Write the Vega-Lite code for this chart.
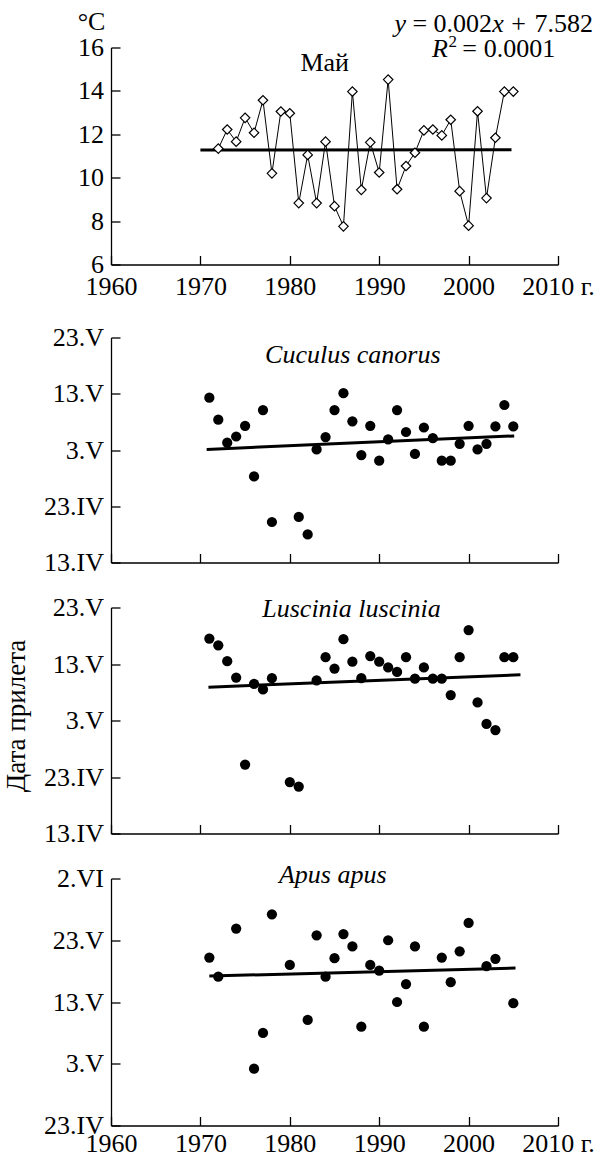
{
  "$schema": "https://vega.github.io/schema/vega-lite/v6.json",
  "padding": {"left": 1, "top": 8.5, "right": 5, "bottom": 5},
  "background": "white",
  "datasets": {
    "may": [
      {"year": 1972, "v": 11.34}, {"year": 1973, "v": 12.22}, {"year": 1974, "v": 11.66}, {"year": 1975, "v": 12.76},
      {"year": 1976, "v": 12.07}, {"year": 1977, "v": 13.57}, {"year": 1978, "v": 10.2}, {"year": 1979, "v": 13.05},
      {"year": 1980, "v": 12.97}, {"year": 1981, "v": 8.83}, {"year": 1982, "v": 11.05}, {"year": 1983, "v": 8.83},
      {"year": 1984, "v": 11.66}, {"year": 1985, "v": 8.69}, {"year": 1986, "v": 7.76}, {"year": 1987, "v": 13.97},
      {"year": 1988, "v": 9.44}, {"year": 1989, "v": 11.63}, {"year": 1990, "v": 10.24}, {"year": 1991, "v": 14.52},
      {"year": 1992, "v": 9.47}, {"year": 1993, "v": 10.54}, {"year": 1994, "v": 11.15}, {"year": 1995, "v": 12.18},
      {"year": 1996, "v": 12.22}, {"year": 1997, "v": 11.95}, {"year": 1998, "v": 12.67}, {"year": 1999, "v": 9.38},
      {"year": 2000, "v": 7.79}, {"year": 2001, "v": 13.06}, {"year": 2002, "v": 9.06}, {"year": 2003, "v": 11.84},
      {"year": 2004, "v": 13.97}, {"year": 2005, "v": 13.97}
    ],
    "may_trend": [{"year": 1970, "v": 11.28}, {"year": 2004.8, "v": 11.29}],
    "cuculus": [
      {"year": 1971, "v": 132.3}, {"year": 1972, "v": 128.4}, {"year": 1973, "v": 124.3}, {"year": 1974, "v": 125.4},
      {"year": 1975, "v": 127.3}, {"year": 1976, "v": 118.3}, {"year": 1977, "v": 130.1}, {"year": 1978, "v": 110.2},
      {"year": 1981, "v": 111.1}, {"year": 1982, "v": 108.0}, {"year": 1983, "v": 123.1}, {"year": 1984, "v": 125.3},
      {"year": 1985, "v": 130.1}, {"year": 1986, "v": 133.1}, {"year": 1987, "v": 128.1}, {"year": 1988, "v": 122.1},
      {"year": 1989, "v": 127.3}, {"year": 1990, "v": 121.1}, {"year": 1991, "v": 124.9}, {"year": 1992, "v": 130.1},
      {"year": 1993, "v": 126.2}, {"year": 1994, "v": 122.3}, {"year": 1995, "v": 127.0}, {"year": 1996, "v": 125.1},
      {"year": 1997, "v": 121.1}, {"year": 1998, "v": 121.1}, {"year": 1999, "v": 124.1}, {"year": 2000, "v": 127.3},
      {"year": 2001, "v": 123.1}, {"year": 2002, "v": 124.1}, {"year": 2003, "v": 127.2}, {"year": 2004, "v": 131.0},
      {"year": 2005, "v": 127.2}
    ],
    "cuculus_trend": [{"year": 1970.7, "v": 123.1}, {"year": 2005.1, "v": 125.5}],
    "luscinia": [
      {"year": 1971, "v": 137.5}, {"year": 1972, "v": 136.3}, {"year": 1973, "v": 133.5}, {"year": 1974, "v": 130.6},
      {"year": 1975, "v": 115.2}, {"year": 1976, "v": 129.5}, {"year": 1977, "v": 128.5}, {"year": 1978, "v": 130.5},
      {"year": 1980, "v": 112.1}, {"year": 1981, "v": 111.3}, {"year": 1983, "v": 130.1}, {"year": 1984, "v": 134.2},
      {"year": 1985, "v": 132.2}, {"year": 1986, "v": 137.4}, {"year": 1987, "v": 133.4}, {"year": 1988, "v": 130.5},
      {"year": 1989, "v": 134.4}, {"year": 1990, "v": 133.4}, {"year": 1991, "v": 132.4}, {"year": 1992, "v": 131.6},
      {"year": 1993, "v": 134.2}, {"year": 1994, "v": 130.4}, {"year": 1995, "v": 132.4}, {"year": 1996, "v": 130.4},
      {"year": 1997, "v": 130.4}, {"year": 1998, "v": 127.5}, {"year": 1999, "v": 134.2}, {"year": 2000, "v": 139.0},
      {"year": 2001, "v": 126.2}, {"year": 2002, "v": 122.4}, {"year": 2003, "v": 121.3}, {"year": 2004, "v": 134.2},
      {"year": 2005, "v": 134.2}
    ],
    "luscinia_trend": [{"year": 1970.9, "v": 128.9}, {"year": 2005.8, "v": 131.1}],
    "apus": [
      {"year": 1971, "v": 140.2}, {"year": 1972, "v": 137.1}, {"year": 1974, "v": 144.9}, {"year": 1976, "v": 122.2},
      {"year": 1977, "v": 128.0}, {"year": 1978, "v": 147.2}, {"year": 1980, "v": 139.0}, {"year": 1982, "v": 130.1},
      {"year": 1983, "v": 143.8}, {"year": 1984, "v": 137.1}, {"year": 1985, "v": 140.1}, {"year": 1986, "v": 144.0},
      {"year": 1987, "v": 142.0}, {"year": 1988, "v": 129.0}, {"year": 1989, "v": 139.0}, {"year": 1990, "v": 138.1},
      {"year": 1991, "v": 143.0}, {"year": 1992, "v": 133.0}, {"year": 1993, "v": 135.9}, {"year": 1994, "v": 142.0},
      {"year": 1995, "v": 129.0}, {"year": 1997, "v": 140.2}, {"year": 1998, "v": 136.2}, {"year": 1999, "v": 141.2},
      {"year": 2000, "v": 145.8}, {"year": 2002, "v": 138.8}, {"year": 2003, "v": 140.0}, {"year": 2005, "v": 132.8}
    ],
    "apus_trend": [{"year": 1971.0, "v": 137.2}, {"year": 2005.25, "v": 138.5}],
    "one": [{}]
  },
  "config": {
    "view": {"stroke": null},
    "font": "'Liberation Serif', 'Times New Roman', 'DejaVu Serif', serif",
    "text": {"font": "'Liberation Serif', 'Times New Roman', 'DejaVu Serif', serif"},
    "axis": {
      "grid": false, "domainColor": "black", "domainWidth": 1.3, "tickColor": "black", "tickWidth": 1.3,
      "tickSize": -9, "labelFont": "'Liberation Serif', 'Times New Roman', 'DejaVu Serif', serif", "labelFontSize": 26, "labelColor": "black",
      "titleFont": "'Liberation Serif', 'Times New Roman', 'DejaVu Serif', serif", "titleFontSize": 26, "titleColor": "black", "titleFontWeight": "normal",
      "labelFlush": false, "labelOverlap": false
    },
    "axisY": {"labelPadding": 16.5},
    "axisX": {"labelPadding": 17.8}
  },
  "bounds": "flush",
  "spacing": 73,
  "vconcat": [
    {
      "width": 447, "height": 217,
      "layer": [
        {
          "data": {"name": "may_trend"},
          "mark": {"type": "line", "color": "black", "strokeWidth": 3},
          "encoding": {
            "x": {"field": "year", "type": "quantitative", "scale": {"domain": [1960, 2010], "nice": false, "zero": false},
              "axis": {"title": null, "values": [1960, 1970, 1980, 1990, 2000, 2010], "format": "d",
                "labelExpr": "datum.value == 2010 ? '\u00a0\u00a02010 г.' : datum.label"}},
            "y": {"field": "v", "type": "quantitative", "scale": {"domain": [6, 16], "nice": false, "zero": false},
              "axis": {"title": "°C", "values": [6, 8, 10, 12, 14, 16], "labelPadding": 16.5, "titleAngle": 0, "titleAlign": "center",
                "titleBaseline": "alphabetic", "titleX": -20, "titleY": -17.7}}
          }
        },
        {
          "data": {"name": "may"},
          "mark": {"type": "line", "color": "black", "strokeWidth": 1},
          "encoding": {"x": {"field": "year", "type": "quantitative"}, "y": {"field": "v", "type": "quantitative"}}
        },
        {
          "data": {"name": "may"},
          "mark": {"type": "point", "shape": "diamond", "filled": true, "fill": "white", "stroke": "black", "strokeWidth": 1.2, "size": 90, "opacity": 1},
          "encoding": {"x": {"field": "year", "type": "quantitative"}, "y": {"field": "v", "type": "quantitative"}}
        },
        {
          "data": {"name": "one"},
          "mark": {"type": "text", "text": "Май", "fontSize": 26, "align": "center", "baseline": "alphabetic", "color": "black"},
          "encoding": {"x": {"datum": 1983.9, "type": "quantitative"}, "y": {"datum": 14.94, "type": "quantitative"}}
        },
        {
          "data": {"name": "one"},
          "mark": {"type": "text", "text": "y", "fontSize": 26, "fontStyle": "italic", "align": "center", "baseline": "alphabetic", "color": "black"},
          "encoding": {"x": {"datum": 1992.36, "type": "quantitative"}, "y": {"datum": 16.736, "type": "quantitative"}}
        },
        {
          "data": {"name": "one"},
          "mark": {"type": "text", "text": "=", "fontSize": 26, "align": "center", "baseline": "alphabetic", "color": "black"},
          "encoding": {"x": {"datum": 1994.55, "type": "quantitative"}, "y": {"datum": 16.736, "type": "quantitative"}}
        },
        {
          "data": {"name": "one"},
          "mark": {"type": "text", "text": "0.002", "fontSize": 26, "align": "center", "baseline": "alphabetic", "color": "black"},
          "encoding": {"x": {"datum": 1999.35, "type": "quantitative"}, "y": {"datum": 16.736, "type": "quantitative"}}
        },
        {
          "data": {"name": "one"},
          "mark": {"type": "text", "text": "x", "fontSize": 26, "fontStyle": "italic", "align": "center", "baseline": "alphabetic", "color": "black"},
          "encoding": {"x": {"datum": 2003.3, "type": "quantitative"}, "y": {"datum": 16.736, "type": "quantitative"}}
        },
        {
          "data": {"name": "one"},
          "mark": {"type": "text", "text": "+", "fontSize": 26, "align": "center", "baseline": "alphabetic", "color": "black"},
          "encoding": {"x": {"datum": 2005.6, "type": "quantitative"}, "y": {"datum": 16.736, "type": "quantitative"}}
        },
        {
          "data": {"name": "one"},
          "mark": {"type": "text", "text": "7.582", "fontSize": 26, "align": "center", "baseline": "alphabetic", "color": "black"},
          "encoding": {"x": {"datum": 2010.64, "type": "quantitative"}, "y": {"datum": 16.736, "type": "quantitative"}}
        },
        {
          "data": {"name": "one"},
          "mark": {"type": "text", "text": "R", "fontSize": 26, "fontStyle": "italic", "align": "center", "baseline": "alphabetic", "color": "black"},
          "encoding": {"x": {"datum": 1996.8, "type": "quantitative"}, "y": {"datum": 15.558, "type": "quantitative"}}
        },
        {
          "data": {"name": "one"},
          "mark": {"type": "text", "text": "2", "fontSize": 17, "align": "center", "baseline": "alphabetic", "color": "black"},
          "encoding": {"x": {"datum": 1998.22, "type": "quantitative"}, "y": {"datum": 16.046, "type": "quantitative"}}
        },
        {
          "data": {"name": "one"},
          "mark": {"type": "text", "text": "=", "fontSize": 26, "align": "center", "baseline": "alphabetic", "color": "black"},
          "encoding": {"x": {"datum": 2000.1, "type": "quantitative"}, "y": {"datum": 15.558, "type": "quantitative"}}
        },
        {
          "data": {"name": "one"},
          "mark": {"type": "text", "text": "0.0001", "fontSize": 26, "align": "center", "baseline": "alphabetic", "color": "black"},
          "encoding": {"x": {"datum": 2005.69, "type": "quantitative"}, "y": {"datum": 15.558, "type": "quantitative"}}
        }
      ]
    },
    {
      "bounds": "flush",
      "spacing": 45,
      "vconcat": [
        {
          "width": 447, "height": 225,
          "layer": [
            {
              "data": {"name": "cuculus_trend"},
              "mark": {"type": "line", "color": "black", "strokeWidth": 3},
              "encoding": {
                "x": {"field": "year", "type": "quantitative", "scale": {"domain": [1960, 2010], "nice": false, "zero": false},
                  "axis": {"title": null, "values": [1960, 1970, 1980, 1990, 2000, 2010], "labels": false}},
                "y": {"field": "v", "type": "quantitative", "scale": {"domain": [103, 143], "nice": false, "zero": false},
                  "axis": {"title": null, "values": [103, 113, 123, 133, 143],
                    "labelExpr": "datum.value == 103 ? '13.IV' : datum.value == 113 ? '23.IV' : datum.value == 123 ? '3.V' : datum.value == 133 ? '13.V' : datum.value == 143 ? '23.V' : '2.VI'"}}
              }
            },
            {
              "data": {"name": "cuculus"},
              "mark": {"type": "circle", "color": "black", "size": 105, "opacity": 1},
              "encoding": {"x": {"field": "year", "type": "quantitative"}, "y": {"field": "v", "type": "quantitative"}}
            },
            {
              "data": {"name": "one"},
              "mark": {"type": "text", "text": "Cuculus canorus", "fontSize": 26, "fontStyle": "italic", "align": "center", "baseline": "alphabetic", "color": "black"},
              "encoding": {"x": {"datum": 1987.05, "type": "quantitative"}, "y": {"datum": 138.45, "type": "quantitative"}}
            }
          ]
        },
        {
          "width": 447, "height": 226,
          "layer": [
            {
              "data": {"name": "luscinia_trend"},
              "mark": {"type": "line", "color": "black", "strokeWidth": 3},
              "encoding": {
                "x": {"field": "year", "type": "quantitative", "scale": {"domain": [1960, 2010], "nice": false, "zero": false},
                  "axis": {"title": null, "values": [1960, 1970, 1980, 1990, 2000, 2010], "labels": false}},
                "y": {"field": "v", "type": "quantitative", "scale": {"domain": [103, 143], "nice": false, "zero": false},
                  "axis": {"title": "Дата прилета", "values": [103, 113, 123, 133, 143],
                    "titleFontSize": 27, "titleAngle": -90, "titleAlign": "center", "titleBaseline": "middle", "titleX": -95, "titleY": 108,
                    "labelExpr": "datum.value == 103 ? '13.IV' : datum.value == 113 ? '23.IV' : datum.value == 123 ? '3.V' : datum.value == 133 ? '13.V' : datum.value == 143 ? '23.V' : '2.VI'"}}
              }
            },
            {
              "data": {"name": "luscinia"},
              "mark": {"type": "circle", "color": "black", "size": 105, "opacity": 1},
              "encoding": {"x": {"field": "year", "type": "quantitative"}, "y": {"field": "v", "type": "quantitative"}}
            },
            {
              "data": {"name": "one"},
              "mark": {"type": "text", "text": "Luscinia luscinia", "fontSize": 26, "fontStyle": "italic", "align": "center", "baseline": "alphabetic", "color": "black"},
              "encoding": {"x": {"datum": 1986.9, "type": "quantitative"}, "y": {"datum": 141.4, "type": "quantitative"}}
            }
          ]
        },
        {
          "width": 447, "height": 247,
          "layer": [
            {
              "data": {"name": "apus_trend"},
              "mark": {"type": "line", "color": "black", "strokeWidth": 3},
              "encoding": {
                "x": {"field": "year", "type": "quantitative", "scale": {"domain": [1960, 2010], "nice": false, "zero": false},
                  "axis": {"title": null, "values": [1960, 1970, 1980, 1990, 2000, 2010], "format": "d", "labelPadding": 13.8,
                    "labelExpr": "datum.value == 2010 ? '\u00a0\u00a02010 г.' : datum.label"}},
                "y": {"field": "v", "type": "quantitative", "scale": {"domain": [113, 153], "nice": false, "zero": false},
                  "axis": {"title": null, "values": [113, 123, 133, 143, 153],
                    "labelExpr": "datum.value == 103 ? '13.IV' : datum.value == 113 ? '23.IV' : datum.value == 123 ? '3.V' : datum.value == 133 ? '13.V' : datum.value == 143 ? '23.V' : '2.VI'"}}
              }
            },
            {
              "data": {"name": "apus"},
              "mark": {"type": "circle", "color": "black", "size": 105, "opacity": 1},
              "encoding": {"x": {"field": "year", "type": "quantitative"}, "y": {"field": "v", "type": "quantitative"}}
            },
            {
              "data": {"name": "one"},
              "mark": {"type": "text", "text": "Apus apus", "fontSize": 26, "fontStyle": "italic", "align": "center", "baseline": "alphabetic", "color": "black"},
              "encoding": {"x": {"datum": 1984.8, "type": "quantitative"}, "y": {"datum": 152.2, "type": "quantitative"}}
            }
          ]
        }
      ]
    }
  ]
}
